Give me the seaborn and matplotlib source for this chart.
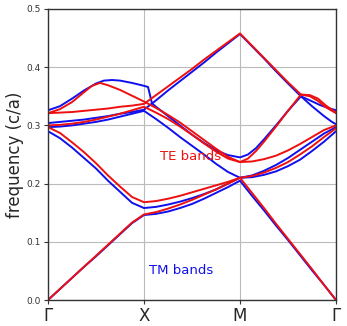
import numpy as np
import pandas as pd
import matplotlib
matplotlib.use("Agg")
import matplotlib.pyplot as plt
import seaborn as sns

# ---- data: path coordinate (Γ=0, X=1, M=2, Γ=3) and frequencies (c/a) ----
K_GRID = [0.0, 0.125, 0.25, 0.375, 0.5, 0.625, 0.75, 0.875, 1.0,
          1.125, 1.25, 1.375, 1.5, 1.625, 1.75, 1.875, 2.0,
          2.125, 2.25, 2.375, 2.5, 2.625, 2.75, 2.875, 3.0]

tm1 = [0.0, 0.019, 0.038, 0.057, 0.075, 0.094, 0.113, 0.132, 0.146,
       0.148, 0.152, 0.158, 0.165, 0.174, 0.184, 0.194, 0.205,
       0.179, 0.154, 0.128, 0.103, 0.077, 0.051, 0.026, 0.0]
te1 = [0.0, 0.019, 0.038, 0.057, 0.076, 0.095, 0.114, 0.133, 0.147,
       0.151, 0.157, 0.164, 0.172, 0.181, 0.190, 0.200, 0.210,
       0.184, 0.158, 0.131, 0.105, 0.079, 0.053, 0.026, 0.0]
tm2 = [0.290, 0.278, 0.262, 0.244, 0.226, 0.205, 0.186, 0.167, 0.158,
       0.160, 0.164, 0.169, 0.175, 0.182, 0.190, 0.200, 0.210,
       0.211, 0.215, 0.221, 0.230, 0.241, 0.256, 0.272, 0.290]
te2 = [0.297, 0.287, 0.271, 0.254, 0.235, 0.214, 0.195, 0.177, 0.168,
       0.170, 0.174, 0.179, 0.185, 0.191, 0.197, 0.203, 0.210,
       0.213, 0.219, 0.227, 0.237, 0.250, 0.264, 0.280, 0.295]
tm3 = [0.297, 0.298, 0.300, 0.303, 0.306, 0.310, 0.315, 0.320, 0.325,
       0.311, 0.296, 0.280, 0.265, 0.250, 0.234, 0.220, 0.210,
       0.214, 0.222, 0.232, 0.244, 0.258, 0.272, 0.286, 0.297]
te3 = [0.300, 0.301, 0.303, 0.306, 0.310, 0.315, 0.320, 0.326, 0.332,
       0.322, 0.311, 0.298, 0.284, 0.269, 0.255, 0.243, 0.237,
       0.238, 0.242, 0.248, 0.257, 0.268, 0.280, 0.292, 0.300]

k_tm4 = [0.0, 0.125, 0.25, 0.375, 0.5, 0.625, 0.75, 0.875, 1.0,
         1.125, 1.25, 1.375, 1.5, 1.625, 1.75, 1.875, 2.0,
         2.125, 2.25, 2.375, 2.5, 2.635, 2.75, 2.875, 2.958, 3.0]
tm4 = [0.304, 0.306, 0.308, 0.310, 0.313, 0.316, 0.320, 0.323, 0.327,
       0.343, 0.360, 0.376, 0.392, 0.408, 0.425, 0.441, 0.457,
       0.436, 0.415, 0.393, 0.372, 0.350, 0.333, 0.316, 0.306, 0.302]

k_te4 = [0.0, 0.125, 0.25, 0.375, 0.5, 0.625, 0.75, 0.875, 1.0,
         1.125, 1.25, 1.375, 1.5, 1.625, 1.75, 1.875, 2.0,
         2.125, 2.25, 2.375, 2.5, 2.635, 2.729, 2.8125, 2.896, 3.0]
te4 = [0.321, 0.322, 0.323, 0.325, 0.327, 0.329, 0.332, 0.334, 0.337,
       0.352, 0.367, 0.382, 0.397, 0.413, 0.428, 0.443, 0.458,
       0.437, 0.416, 0.395, 0.374, 0.353, 0.352, 0.346, 0.334, 0.322]

k_tm5 = [0.0, 0.125, 0.25, 0.375, 0.5, 0.583, 0.667, 0.75, 0.875, 1.0,
         1.042, 1.083, 1.125, 1.25, 1.375, 1.5, 1.625, 1.75, 1.875, 2.0,
         2.083, 2.167, 2.25, 2.375, 2.5, 2.635, 2.729, 2.833, 2.917, 3.0]
tm5 = [0.326, 0.333, 0.346, 0.360, 0.372, 0.377, 0.378, 0.377, 0.373, 0.368,
       0.366, 0.338, 0.332, 0.316, 0.300, 0.284, 0.270, 0.257, 0.249, 0.245,
       0.250, 0.261, 0.276, 0.300, 0.325, 0.350, 0.343, 0.335, 0.330, 0.326]

k_te5 = [0.0, 0.125, 0.25, 0.375, 0.458, 0.542, 0.625, 0.75, 0.875, 1.0,
         1.125, 1.25, 1.375, 1.5, 1.625, 1.75, 1.875, 2.0,
         2.083, 2.167, 2.25, 2.375, 2.5, 2.635, 2.729, 2.8125, 2.896, 3.0]
te5 = [0.321, 0.328, 0.340, 0.357, 0.368, 0.373, 0.369, 0.361, 0.351, 0.341,
       0.330, 0.318, 0.305, 0.290, 0.275, 0.260, 0.246, 0.237,
       0.243, 0.256, 0.272, 0.298, 0.325, 0.353, 0.350, 0.342, 0.331, 0.321]

tick_pos = [0, 1, 2, 3]
tick_labels = ["Γ", "X", "M", "Γ"]
y_ticks = [0.0, 0.1, 0.2, 0.3, 0.4, 0.5]

# ---- build long tables ----
def band_frame(k, f, name):
    return pd.DataFrame({"k": k, "freq": f, "band": name})

tm_df = pd.concat([band_frame(K_GRID, tm1, "tm1"), band_frame(K_GRID, tm2, "tm2"),
                   band_frame(K_GRID, tm3, "tm3"), band_frame(k_tm4, tm4, "tm4"),
                   band_frame(k_tm5, tm5, "tm5")], ignore_index=True)
te_df = pd.concat([band_frame(K_GRID, te1, "te1"), band_frame(K_GRID, te2, "te2"),
                   band_frame(K_GRID, te3, "te3"), band_frame(k_te4, te4, "te4"),
                   band_frame(k_te5, te5, "te5")], ignore_index=True)

sns.set_style("whitegrid")
plt.rcParams["font.family"] = ["DejaVu Sans"]

fig = plt.figure(figsize=(3.47, 3.26), dpi=100)
ax = fig.add_axes([48/347, 26/326, 288/347, 291/326])

sns.lineplot(data=tm_df, x="k", y="freq", units="band", estimator=None,
             sort=False, color="#1010ee", lw=1.4, ax=ax, legend=False)
sns.lineplot(data=te_df, x="k", y="freq", units="band", estimator=None,
             sort=False, color="#ee1010", lw=1.4, ax=ax, legend=False)

ax.set_xlim(0, 3)
ax.set_ylim(0, 0.5)
ax.set_xticks(tick_pos)
ax.set_xticklabels(tick_labels, fontsize=12)
ax.set_yticks(y_ticks)
ax.set_yticklabels([f"{v:.1f}" for v in y_ticks], fontsize=6.5, color="#333333")
ax.set_xlabel("")
ax.set_ylabel("frequency (c/a)", fontsize=12, labelpad=2)

ax.grid(True, color="#bbbbbb", lw=0.8)
for s in ax.spines.values():
    s.set_visible(True)
    s.set_color("#333333")
    s.set_linewidth(1.0)
ax.tick_params(axis="both", which="both", length=3, width=0.8, color="#333333",
               direction="out", bottom=True, left=True, pad=2)

ax.text(1.48, 0.246, "TE bands", color="#ee1010", fontsize=9.5,
        ha="center", va="center")
ax.text(1.39, 0.05, "TM bands", color="#1010ee", fontsize=9.5,
        ha="center", va="center")

fig.savefig("out.png", dpi=100)
